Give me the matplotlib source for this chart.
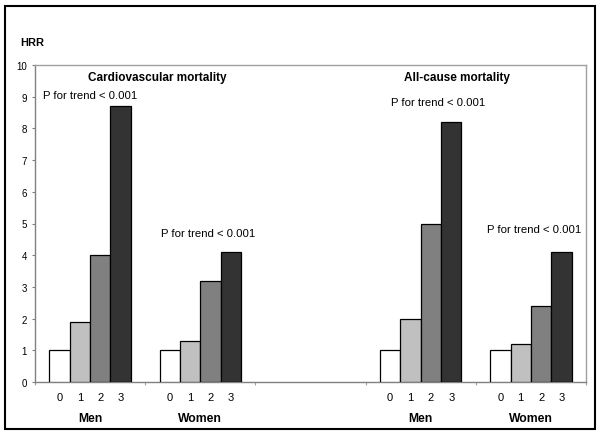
import matplotlib
matplotlib.use("Agg")
import matplotlib.pyplot as plt
from matplotlib.patches import Rectangle
import matplotlib.transforms as mtransforms

plt.rcParams['font.family'] = ['Liberation Sans', 'DejaVu Sans']

groups = ["Men", "Women", "", "Men", "Women"]
levels = ["0", "1", "2", "3"]
men_cv = [1.0, 1.9, 4.0, 8.7]
women_cv = [1.0, 1.3, 3.2, 4.1]
men_all = [1.0, 2.0, 5.0, 8.2]
women_all = [1.0, 1.2, 2.4, 4.1]
series = {0: men_cv, 1: women_cv, 3: men_all, 4: women_all}
colors = ["#ffffff", "#c0c0c0", "#808080", "#333333"]
titles = [("Cardiovascular mortality", 0.61, 9.62), ("All-cause mortality", 3.33, 9.62)]
ptexts = [(0.0, 9.05), (1.07, 4.7), (3.16, 8.83), (4.03, 4.83)]
ptext = "P for trend < 0.001"

W, H = 600, 435
fig = plt.figure(figsize=(W / 100, H / 100), dpi=100)
fig.patch.set_facecolor("white")
fig.add_artist(Rectangle((5 / W, 5 / H), 590 / W, 423 / H, transform=fig.transFigure,
                         fill=False, edgecolor="black", linewidth=1.5))

ax = fig.add_axes([35 / W, (H - 383) / H, 551 / W, 317 / H])
bw = 0.185
for g, vals in series.items():
    for i, v in enumerate(vals):
        x = g + (i - 1.5) * bw
        ax.bar(x, v, width=bw, color=colors[i], edgecolor="black", linewidth=0.9, zorder=3)

ax.set_xlim(-0.5, 4.5)
ax.set_ylim(0, 10)
ax.set_yticks(range(0, 11))
ax.tick_params(axis='y', labelsize=7, length=2.2, color="#808080", pad=3.5, direction='out')
ax.set_xticks([-0.5, 0.5, 1.5, 2.5, 3.5, 4.5])
ax.set_xticklabels([])
ax.tick_params(axis='x', length=2.2, color="#a0a0a0", direction='out')
for s in ax.spines.values():
    s.set_color("#a0a0a0")
    s.set_linewidth(1.0)
ax.spines['left'].set_color("#808080")
ax.spines['bottom'].set_color("#808080")

trans = mtransforms.blended_transform_factory(ax.transData, ax.transAxes)
for g, vals in series.items():
    for i, lab in enumerate(levels):
        x = g + (i - 1.5) * bw
        ax.text(x, -0.047, lab, transform=trans, ha='center', va='center', fontsize=8, clip_on=False)
    ax.text(g, -0.1136, groups[g], transform=trans, ha='center', va='center', fontsize=8.7,
            fontweight='bold', clip_on=False)

for t, x, y in titles:
    ax.text(x, y, t, ha='center', va='center', fontsize=8.5, fontweight='bold')
for x, y in ptexts:
    ax.text(x, y, ptext, ha='center', va='center', fontsize=8.2, clip_on=False)

fig.text(20 / W, 1 - 43 / H, "HRR", ha='left', va='center', fontsize=8, fontweight='bold')

fig.savefig("out.png", dpi=100)
